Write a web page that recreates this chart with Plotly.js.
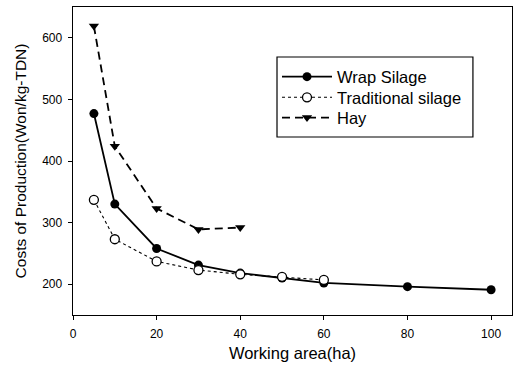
<!DOCTYPE html>
<html><head><meta charset="utf-8">
<script src="https://cdn.plot.ly/plotly-3.0.1.min.js"></script>
<style>html,body{margin:0;padding:0;background:#fff}#c{width:513px;height:365px}</style>
</head><body><div id="c"></div>
<script>
const wrapX = [5, 10, 20, 30, 40, 50, 60, 80, 100];
const wrapY = [477, 330, 258, 231, 218, 210, 202, 196, 191];
const tradX = [5, 10, 20, 30, 40, 50, 60];
const tradY = [337, 273, 237, 223, 216, 212, 207];
const hayX = [5, 10, 20, 30, 40];
const hayY = [619, 424, 323, 289, 292];
const xTicks = [0, 20, 40, 60, 80, 100];
const yTicks = [200, 300, 400, 500, 600];

const traces = [
  {x: wrapX, y: wrapY, name: 'Wrap Silage', mode: 'lines+markers', legend: 'legend',
   line: {color: '#000', width: 1.8, dash: 'solid'},
   marker: {symbol: 'circle', size: 9, color: '#000'}},
  {x: tradX, y: tradY, name: 'Traditional silage', mode: 'lines+markers', legend: 'legend2',
   line: {color: '#000', width: 1.1, dash: 'dot'},
   marker: {symbol: 'circle', size: 9, color: '#fff', line: {color: '#000', width: 1.3}}},
  {x: hayX, y: hayY, name: 'Hay', mode: 'lines+markers', legend: 'legend3',
   line: {color: '#000', width: 1.8, dash: '8px,5px'},
   marker: {symbol: 'triangle-down', size: 9, color: '#000'}}
];

function leg(y) {
  return {x: 0.4647, y: y, xanchor: 'left', yanchor: 'middle',
    borderwidth: 0, bgcolor: 'rgba(0,0,0,0)',
    font: {size: 16.5, color: '#000'}, itemwidth: 50};
}

const layout = {
  width: 513, height: 365,
  margin: {l: 73, r: 1, t: 7, b: 50},
  paper_bgcolor: '#fff', plot_bgcolor: '#fff',
  font: {family: 'Liberation Sans, Arial, sans-serif', color: '#000'},
  showlegend: true,
  legend: leg(0.773),
  legend2: leg(0.706),
  legend3: leg(0.640),
  shapes: [{type: 'rect', xref: 'paper', yref: 'paper', x0: 0.4647, x1: 0.911, y0: 0.578, y1: 0.8377,
    line: {color: '#000', width: 1.2}, fillcolor: 'rgba(0,0,0,0)', layer: 'above'}],
  xaxis: {range: [0, 105], tickvals: xTicks, ticktext: xTicks.map(String),
    showgrid: false, zeroline: false, showline: true, linecolor: '#000', linewidth: 1.4,
    mirror: true, ticks: 'outside', ticklen: 4, tickcolor: '#000', ticklabelstandoff: 3,
    tickfont: {size: 12, color: '#000'},
    title: {text: 'Working area(ha)', font: {size: 16.5, color: '#000'}, standoff: 7}},
  yaxis: {range: [150, 650], tickvals: yTicks, ticktext: yTicks.map(String),
    showgrid: false, zeroline: false, showline: true, linecolor: '#000', linewidth: 1.4,
    mirror: true, ticks: 'outside', ticklen: 4, tickcolor: '#000', ticklabelstandoff: 3,
    tickfont: {size: 12, color: '#000'},
    title: {text: 'Costs of Production(Won/kg-TDN)', font: {size: 15.5, color: '#000'}, standoff: 11}}
};
Plotly.newPlot('c', traces, layout, {staticPlot: true, displayModeBar: false});
</script></body></html>
